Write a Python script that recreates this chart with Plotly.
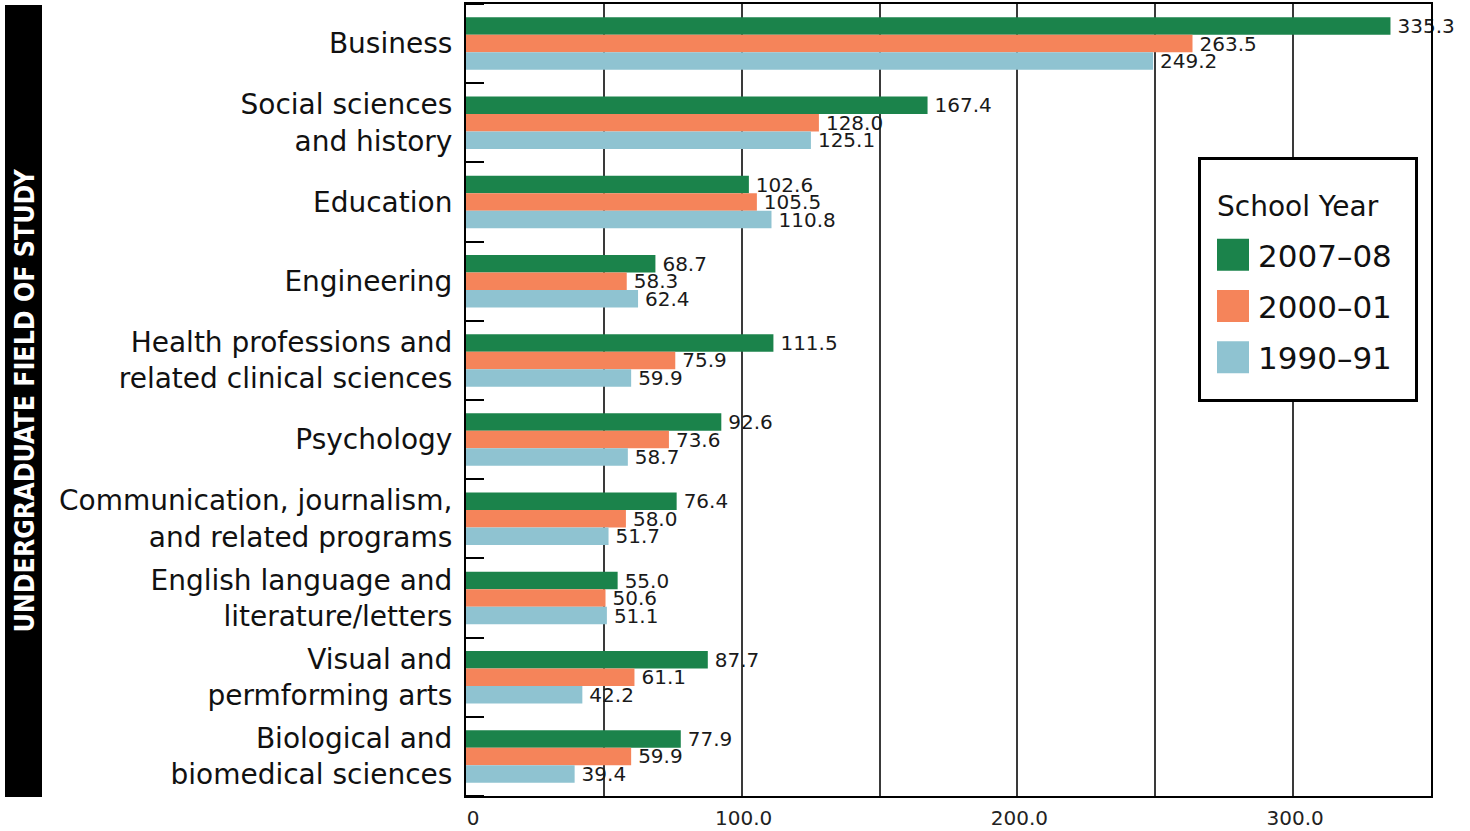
import plotly.graph_objects as go

categories = [
    "Business",
    "Social sciences<br>and history",
    "Education",
    "Engineering",
    "Health professions and<br>related clinical sciences",
    "Psychology",
    "Communication, journalism,<br>and related programs",
    "English language and<br>literature/letters",
    "Visual and<br>permforming arts",
    "Biological and<br>biomedical sciences",
]
series_names = ["2007–08", "2000–01", "1990–91"]
values_2007 = [335.3, 167.4, 102.6, 68.7, 111.5, 92.6, 76.4, 55.0, 87.7, 77.9]
values_2000 = [263.5, 128.0, 105.5, 58.3, 75.9, 73.6, 58.0, 50.6, 61.1, 59.9]
values_1990 = [249.2, 125.1, 110.8, 62.4, 59.9, 58.7, 51.7, 51.1, 42.2, 39.4]
colors = ["#1b834b", "#f5845a", "#8fc3d1"]
x_tickvals = [0, 100, 200, 300]
x_ticktext = ["\u20020", "100.0", "200.0", "300.0"]
legend_title = "School Year"
band_title = "UNDERGRADUATE FIELD OF STUDY"

W, H = 1470, 831
ML, MR, MT, MB = 466, 39, 4, 35
pw, ph = W - ML - MR, H - MT - MB

def px_x(p):
    return (p - ML) / pw

def px_y(p):
    return (H - MB - p) / ph

FONT = "DejaVu Sans, Liberation Sans, sans-serif"
ypos = list(range(len(categories)))

fig = go.Figure()
for name, vals, col in zip(series_names, [values_2007, values_2000, values_1990], colors):
    fig.add_trace(go.Bar(
        y=ypos, x=vals, orientation="h", name=name, legendgroup=name,
        marker=dict(color=col, line=dict(width=0)),
        text=[f"\u2009{v:.1f}" for v in vals], textposition="outside",
        textfont=dict(size=20, color="#1a1a1a", family=FONT),
        constraintext="none", cliponaxis=False, hoverinfo="skip",
    ))

fig.update_layout(
    width=W, height=H,
    margin=dict(l=ML, r=MR, t=MT, b=MB, pad=0, autoexpand=False),
    paper_bgcolor="white", plot_bgcolor="white",
    barmode="group", bargap=0.337, bargroupgap=0,
    font=dict(family=FONT, color="#111111"),
    legend=dict(
        x=px_x(1208), y=px_y(228), xanchor="left", yanchor="top",
        bgcolor="rgba(0,0,0,0)", borderwidth=0,
        font=dict(size=31, family=FONT, color="#111"),
        itemwidth=40, tracegroupgap=8, traceorder="grouped",
    ),
    xaxis=dict(
        range=[0, 350], tickmode="array", tickvals=x_tickvals, ticktext=x_ticktext,
        showgrid=True, gridcolor="#3a3a3a", gridwidth=1.5,
        minor=dict(tickmode="linear", tick0=50, dtick=100, showgrid=True,
                   gridcolor="#3a3a3a", gridwidth=1.5, ticks=""),
        showline=True, linecolor="black", linewidth=2, mirror=True,
        ticks="", tickfont=dict(size=20, family=FONT, color="#222"),
        ticklabelshift=2, ticklabelstandoff=3, zeroline=False, fixedrange=True,
        automargin=False,
    ),
    yaxis=dict(
        range=[len(categories) - 0.5, -0.5], tickmode="array", tickvals=ypos, ticktext=categories,
        showgrid=False, zeroline=False, ticks="",
        minor=dict(tickmode="linear", tick0=0.5, dtick=1, ticks="inside", ticklen=18,
                   tickcolor="black", tickwidth=1.5, showgrid=False),
        showline=True, linecolor="black", linewidth=2, mirror=True,
        tickfont=dict(size=28, family=FONT, color="#111"), ticklabelstandoff=6,
        fixedrange=True, automargin=False,
    ),
    shapes=[
        dict(type="rect", xref="paper", yref="paper",
             x0=px_x(5), x1=px_x(42), y0=px_y(797), y1=px_y(5),
             fillcolor="black", line=dict(width=0), layer="above"),
        dict(type="rect", xref="paper", yref="paper",
             x0=px_x(1199.5), x1=px_x(1416.5), y0=px_y(400.5), y1=px_y(158.5),
             fillcolor="white", line=dict(width=3, color="black"), layer="above"),
    ],
    annotations=[
        dict(text=f"<b>{band_title}</b>", xref="paper", yref="paper",
             x=px_x(23.5), y=px_y(401), textangle=-90, showarrow=False,
             font=dict(size=26.5, family="DejaVu Sans Condensed, Liberation Sans", color="white"),
             xanchor="center", yanchor="middle"),
        dict(text=legend_title, xref="paper", yref="paper",
             x=px_x(1215), y=px_y(207), showarrow=False, xanchor="left", yanchor="middle",
             font=dict(size=28, family=FONT, color="#111")),
    ],
)

post = """
document.body.style.margin = '0';
document.body.style.padding = '0';
var gd = document.getElementById('{plot_id}');
function fixLegend(){
  gd.querySelectorAll('.legendpoints path').forEach(function(p){
    p.setAttribute('d','M16,16H-16V-16H16Z');
  });
}
fixLegend();
setTimeout(fixLegend, 100);
if (gd.on) { gd.on('plotly_afterplot', fixLegend); }
"""
fig.write_html("out.html", post_script=post, config={"displayModeBar": False})
